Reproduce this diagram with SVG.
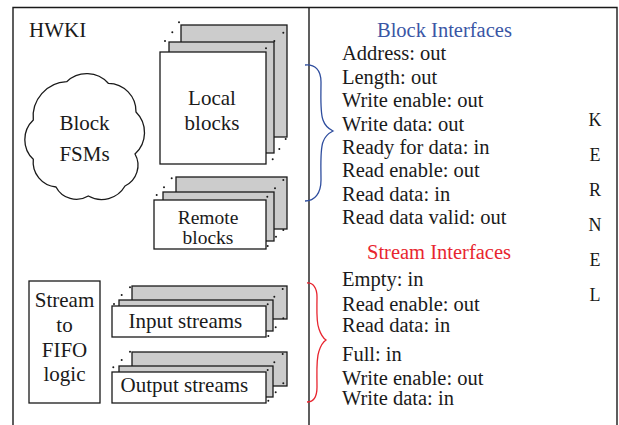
<svg xmlns="http://www.w3.org/2000/svg" width="619" height="425" viewBox="0 0 619 425">
  <style>
    .frame { fill: none; stroke: #1a1a1a; stroke-width: 1.4; }
    .box { fill: #ffffff; stroke: #1a1a1a; stroke-width: 1.3; }
    .layer { fill: #cccccc; stroke: #1a1a1a; stroke-width: 1.3; }
    .dot { fill: #1a1a1a; }
    .lbl { font-family: "Liberation Serif", "Times New Roman", serif; font-size: 21px; fill: #1a1a1a; }
    .small { font-size: 19.5px; }
    .mid { text-anchor: middle; }
    .sig { font-family: "Liberation Serif", "Times New Roman", serif; font-size: 20.5px; fill: #1a1a1a; }
    .kern { font-family: "Liberation Serif", "Times New Roman", serif; font-size: 18px; fill: #1a1a1a; text-anchor: middle; }
    .blue { fill: #3a56a5; }
    .red { fill: #e8252f; }
    .brace { fill: none; stroke-width: 1.3; }
  </style>

  <rect width="619" height="425" fill="#ffffff"/>

  <!-- outer frame, open at the bottom, with the divider between the two halves -->
  <g id="frame">
    <path class="frame" d="M13,426 V7.5 H617 V426"/>
    <line class="frame" x1="309" y1="7.5" x2="309" y2="426"/>
    <text class="lbl" x="29" y="37">HWKI</text>
  </g>

  <!-- cloud for the block state machines -->
  <g id="block-fsms">
    <path class="box" d="M66.7,81.7 A29,29 0 0 1 108.3,83.3 A28,28 0 0 1 136,112 A29,29 0 0 1 135,154 A23,23 0 0 1 125,186 A27,27 0 0 1 88.3,196 A23,23 0 0 1 56,187 A25,25 0 0 1 33.3,159.3 A27,27 0 0 1 33.3,120 A35,35 0 0 1 66.7,81.7 Z"/>
    <text class="lbl mid" x="84.5" y="130">Block</text>
    <text class="lbl mid" x="84.5" y="161">FSMs</text>
  </g>

  <!-- stack of local blocks -->
  <g id="local-blocks">
    <rect class="layer" x="181" y="25" width="106" height="112"/>
    <rect class="layer" x="169" y="42" width="105" height="111"/>
    <rect class="box" x="160" y="52" width="106" height="112"/>
    <circle class="dot" cx="179" cy="22.3" r="1"/>
    <circle class="dot" cx="172.3" cy="32.3" r="1"/>
    <circle class="dot" cx="165" cy="41" r="1"/>
    <circle class="dot" cx="283.3" cy="32.7" r="1"/>
    <circle class="dot" cx="274.3" cy="41" r="1"/>
    <circle class="dot" cx="266" cy="48.3" r="1"/>
    <circle class="dot" cx="285.7" cy="139" r="1"/>
    <circle class="dot" cx="279.3" cy="149" r="1"/>
    <circle class="dot" cx="272.7" cy="159.3" r="1"/>
    <text class="lbl mid" x="212" y="105">Local</text>
    <text class="lbl mid" x="212" y="130">blocks</text>
  </g>

  <!-- stack of remote blocks -->
  <g id="remote-blocks">
    <rect class="layer" x="176" y="177" width="111" height="52"/>
    <rect class="layer" x="163" y="192" width="111" height="49"/>
    <rect class="box" x="154" y="200" width="112" height="49"/>
    <circle class="dot" cx="171.7" cy="178.3" r="1"/>
    <circle class="dot" cx="164" cy="187.3" r="1"/>
    <circle class="dot" cx="156.7" cy="195" r="1"/>
    <circle class="dot" cx="283.3" cy="180" r="1"/>
    <circle class="dot" cx="275" cy="188.3" r="1"/>
    <circle class="dot" cx="267.3" cy="196.7" r="1"/>
    <circle class="dot" cx="283.3" cy="230" r="1"/>
    <circle class="dot" cx="276" cy="236.7" r="1"/>
    <circle class="dot" cx="267.7" cy="246" r="1"/>
    <text class="lbl small mid" x="208" y="224">Remote</text>
    <text class="lbl small mid" x="208" y="244">blocks</text>
  </g>

  <!-- stream-to-FIFO logic -->
  <g id="stream-fifo">
    <rect class="box" x="29" y="281" width="71" height="122"/>
    <text class="lbl mid" x="64.5" y="307">Stream</text>
    <text class="lbl mid" x="64.5" y="332">to</text>
    <text class="lbl mid" x="64.5" y="357">FIFO</text>
    <text class="lbl mid" x="64.5" y="381">logic</text>
  </g>

  <!-- stack of input streams -->
  <g id="input-streams">
    <rect class="layer" x="132" y="286" width="155" height="33"/>
    <rect class="layer" x="119" y="300" width="154" height="31"/>
    <rect class="box" x="112" y="306" width="154" height="31"/>
    <circle class="dot" cx="130" cy="287.3" r="1"/>
    <circle class="dot" cx="121.7" cy="295" r="1"/>
    <circle class="dot" cx="114" cy="304" r="1"/>
    <circle class="dot" cx="282.7" cy="289" r="1"/>
    <circle class="dot" cx="274.3" cy="296.7" r="1"/>
    <circle class="dot" cx="267.7" cy="304.3" r="1"/>
    <circle class="dot" cx="283.3" cy="318.3" r="1"/>
    <circle class="dot" cx="275.7" cy="327.3" r="1"/>
    <circle class="dot" cx="268.3" cy="336" r="1"/>
    <text class="lbl" x="128.5" y="328">Input streams</text>
  </g>

  <!-- stack of output streams -->
  <g id="output-streams">
    <rect class="layer" x="132" y="352" width="155" height="34"/>
    <rect class="layer" x="119" y="366" width="154" height="31"/>
    <rect class="box" x="112" y="372" width="154" height="31"/>
    <circle class="dot" cx="130" cy="351.7" r="1"/>
    <circle class="dot" cx="121.7" cy="360" r="1"/>
    <circle class="dot" cx="113.3" cy="367.3" r="1"/>
    <circle class="dot" cx="282.7" cy="354" r="1"/>
    <circle class="dot" cx="274.3" cy="362.3" r="1"/>
    <circle class="dot" cx="267.7" cy="370" r="1"/>
    <circle class="dot" cx="283.3" cy="383.3" r="1"/>
    <circle class="dot" cx="275.7" cy="392.3" r="1"/>
    <circle class="dot" cx="268.3" cy="400.7" r="1"/>
    <text class="lbl" x="120.5" y="392">Output streams</text>
  </g>

  <!-- braces tying the block and stream stacks to their signal lists -->
  <g id="connectors">
    <path class="brace" stroke="#2e4d9e" d="M305,65 C315,64 321,70 321,82 C321,98 320,112 323,120 C325,126 329,129 333,131 C329,133 325,136 323,142 C320,150 321,165 321,180 C321,193 315,201 305,201"/>
    <path class="brace" stroke="#e8252f" d="M307,283 C313,282.5 317,288 317,297 C317,310 316,322 319,329 C321,335 323,338 326,340 C323,342 321,345 319,351 C316,359 317,372 317,387 C317,397 313,402 307,402"/>
  </g>

  <!-- block interface signals -->
  <g id="block-interfaces">
    <text class="sig blue" x="377" y="37">Block Interfaces</text>
    <text class="sig" x="342" y="60">Address: out</text>
    <text class="sig" x="342" y="83.5">Length: out</text>
    <text class="sig" x="342" y="107">Write enable: out</text>
    <text class="sig" x="342" y="130.5">Write data: out</text>
    <text class="sig" x="342" y="154">Ready for data: in</text>
    <text class="sig" x="342" y="177">Read enable: out</text>
    <text class="sig" x="342" y="200.5">Read data: in</text>
    <text class="sig" x="342" y="224">Read data valid: out</text>
  </g>

  <!-- stream interface signals -->
  <g id="stream-interfaces">
    <text class="sig red" x="367" y="259">Stream Interfaces</text>
    <text class="sig" x="342" y="286">Empty: in</text>
    <text class="sig" x="342" y="311">Read enable: out</text>
    <text class="sig" x="342" y="331.5">Read data: in</text>
    <text class="sig" x="342" y="360.5">Full: in</text>
    <text class="sig" x="342" y="385">Write enable: out</text>
    <text class="sig" x="342" y="405">Write data: in</text>
  </g>

  <!-- vertical kernel label -->
  <g id="kernel">
    <text class="kern" x="595" y="126">K</text>
    <text class="kern" x="595" y="161">E</text>
    <text class="kern" x="595" y="196">R</text>
    <text class="kern" x="595" y="231">N</text>
    <text class="kern" x="595" y="266">E</text>
    <text class="kern" x="595" y="301">L</text>
  </g>
</svg>
